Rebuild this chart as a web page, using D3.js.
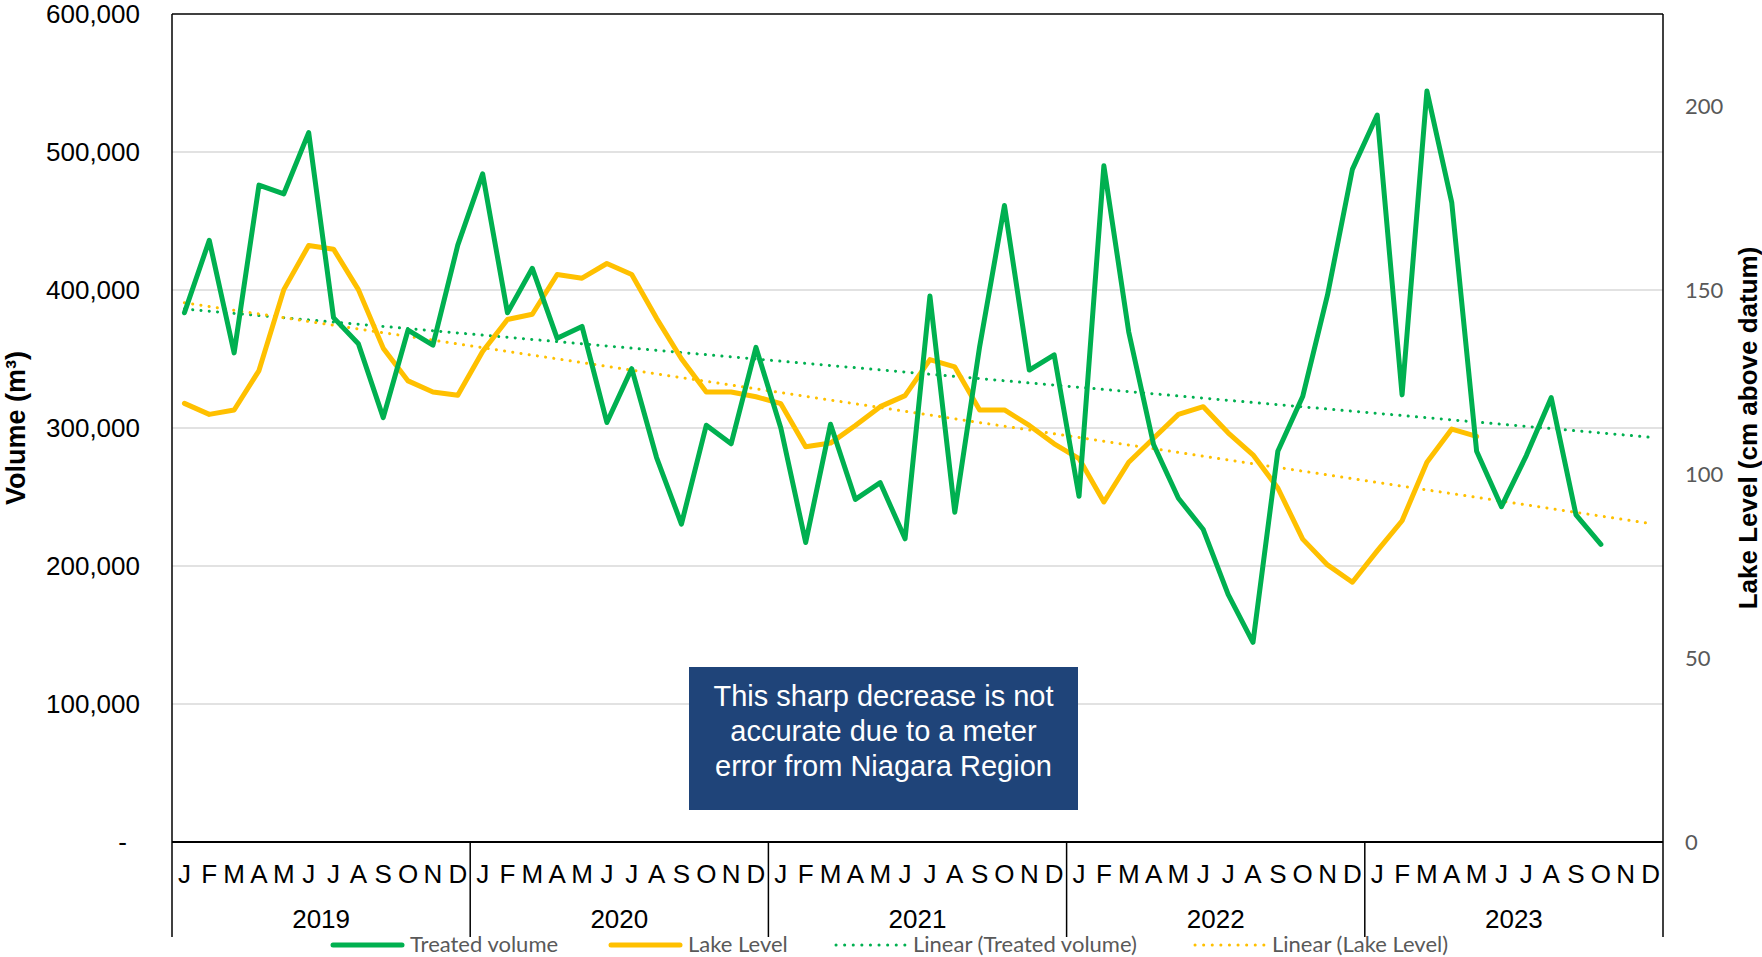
<!DOCTYPE html>
<html>
<head>
<meta charset="utf-8">
<script src="https://cdn.jsdelivr.net/npm/d3@7"></script>
<style>
  body { margin: 0; background: #fff; }
  svg { display: block; }
</style>
</head>
<body>
<div id="chart"></div>
<script>
// monthly data, Jan 2019 .. Dec 2023
var years = [2019, 2020, 2021, 2022, 2023];
var monthLetters = ["J","F","M","A","M","J","J","A","S","O","N","D"];

// treated volume (m3), ends Oct 2023
var treatedVolume = [
  383500, 436000, 354400, 476000, 469700, 514000, 380000, 361000, 307500, 371000, 360000, 432500,
  484200, 383500, 415700, 365000, 373600, 304000, 343000, 278600, 230400, 302000, 288500, 358400,
  300000, 217000, 302700, 248300, 260400, 219700, 395600, 239000, 358900, 461200, 342000, 353000,
  250500, 490000, 369600, 288000, 249100, 226400, 179500, 144700, 283100, 322800, 396400, 487400,
  526800, 324000, 544200, 463300, 283100, 243000, 280000, 322000, 237000, 215700
];

// lake level (cm above datum), ends May 2023
var lakeLevel = [
  119.2, 116.2, 117.4, 128.1, 150.1, 162.1, 161.1, 150.1, 134.2, 125.3, 122.3, 121.4,
  133.3, 142.0, 143.4, 154.2, 153.2, 157.2, 154.2, 142.3, 131.3, 122.3, 122.3, 121.0,
  119.1, 107.4, 108.4, 113.2, 118.3, 121.3, 131.1, 129.1, 117.4, 117.4, 113.2, 108.2,
  104.2, 92.4, 103.2, 109.7, 116.2, 118.3, 111.2, 105.2, 96.2, 82.3, 75.3, 70.6,
  79.1, 87.3, 103.2, 112.2, 110.2
];

var volumeTicks = [0, 100000, 200000, 300000, 400000, 500000, 600000];
var levelTicks = [0, 50, 100, 150, 200];
var note = ["This sharp decrease is not", "accurate due to a meter", "error from Niagara Region"];

var width = 1762, height = 957;
var plotLeft = 172, plotRight = 1663, plotTop = 14, plotBottom = 842;
var dividerBottom = 937;

var green = "#00B050", yellow = "#FFC000", grey = "#595959";

var months = d3.range(years.length * 12);

var x = d3.scaleBand().domain(months).range([plotLeft, plotRight]);
var xYear = d3.scaleBand().domain(years).range([plotLeft, plotRight]);
var yVol = d3.scaleLinear().domain([0, 600000]).range([plotBottom, plotTop]);
var yLake = d3.scaleLinear().domain([0, 225]).range([plotBottom, plotTop]);

function cx(i) { return x(i) + x.bandwidth() / 2; }

// linear trend on month index, like excel does
function linearFit(values) {
  var mx = d3.mean(values, function(d, i) { return i; });
  var my = d3.mean(values);
  var sxy = 0, sxx = 0;
  values.forEach(function(v, i) { sxy += (i - mx) * (v - my); sxx += (i - mx) * (i - mx); });
  var slope = sxy / sxx;
  return function(i) { return my + slope * (i - mx); };
}

var svg = d3.select("#chart").append("svg")
  .attr("width", width)
  .attr("height", height);

// gridlines
svg.append("g")
  .selectAll("line")
  .data(volumeTicks.filter(function(d) { return d > 0 && d < 600000; }))
  .enter().append("line")
  .attr("x1", plotLeft).attr("x2", plotRight)
  .attr("y1", function(d) { return yVol(d); })
  .attr("y2", function(d) { return yVol(d); })
  .attr("stroke", "#D9D9D9")
  .attr("stroke-width", 1.5);

// left axis labels
svg.append("g")
  .selectAll("text")
  .data(volumeTicks)
  .enter().append("text")
  .attr("x", function(d) { return d == 0 ? 127 : 140; })
  .attr("y", function(d) { return yVol(d); })
  .attr("dy", "0.35em")
  .attr("text-anchor", "end")
  .attr("font-family", "Liberation Sans, Arial, sans-serif")
  .attr("font-size", 26)
  .attr("fill", "#000")
  .text(function(d) { return d == 0 ? "-" : d3.format(",")(d); });

// right axis labels
svg.append("g")
  .selectAll("text")
  .data(levelTicks)
  .enter().append("text")
  .attr("x", 1685)
  .attr("y", function(d) { return yLake(d); })
  .attr("dy", "0.36em")
  .attr("font-family", "Lato, sans-serif")
  .attr("font-size", 22)
  .attr("fill", grey)
  .text(function(d) { return d; });

// axis titles
svg.append("text")
  .attr("transform", "translate(25," + ((plotTop + plotBottom) / 2) + ") rotate(-90)")
  .attr("text-anchor", "middle")
  .attr("font-family", "Liberation Sans, Arial, sans-serif")
  .attr("font-weight", "bold")
  .attr("font-size", 27)
  .text("Volume (m³)");

svg.append("text")
  .attr("transform", "translate(1757," + ((plotTop + plotBottom) / 2) + ") rotate(-90)")
  .attr("text-anchor", "middle")
  .attr("font-family", "Liberation Sans, Arial, sans-serif")
  .attr("font-weight", "bold")
  .attr("font-size", 26)
  .text("Lake Level (cm above datum)");

// frame
var frame = svg.append("g").attr("stroke", "#000").attr("fill", "none");
frame.append("line").attr("x1", plotLeft).attr("x2", plotRight).attr("y1", plotTop).attr("y2", plotTop).attr("stroke-width", 1.5);
frame.append("line").attr("x1", plotLeft).attr("x2", plotRight).attr("y1", plotBottom).attr("y2", plotBottom).attr("stroke-width", 2.2);
frame.selectAll(".divider")
  .data(d3.range(years.length + 1))
  .enter().append("line")
  .attr("class", "divider")
  .attr("x1", function(d) { return plotLeft + d * xYear.bandwidth(); })
  .attr("x2", function(d) { return plotLeft + d * xYear.bandwidth(); })
  .attr("y1", function(d) { return (d == 0 || d == years.length) ? plotTop : plotBottom; })
  .attr("y2", dividerBottom)
  .attr("stroke-width", 1.5);

// month letters
svg.append("g")
  .selectAll("text")
  .data(months)
  .enter().append("text")
  .attr("x", function(d) { return cx(d); })
  .attr("y", 883)
  .attr("text-anchor", "middle")
  .attr("font-family", "Liberation Sans, Arial, sans-serif")
  .attr("font-size", 26)
  .text(function(d) { return monthLetters[d % 12]; });

// year labels
svg.append("g")
  .selectAll("text")
  .data(years)
  .enter().append("text")
  .attr("x", function(d) { return xYear(d) + xYear.bandwidth() / 2; })
  .attr("y", 928)
  .attr("text-anchor", "middle")
  .attr("font-family", "Liberation Sans, Arial, sans-serif")
  .attr("font-size", 26)
  .text(function(d) { return d; });

// series
var volLine = d3.line()
  .x(function(d, i) { return cx(i); })
  .y(function(d) { return yVol(d); });
var lakeLine = d3.line()
  .x(function(d, i) { return cx(i); })
  .y(function(d) { return yLake(d); });

var volTrend = linearFit(treatedVolume);
var lakeTrend = linearFit(lakeLevel);
var ends = [0, months.length - 1];

svg.append("path")
  .attr("d", d3.line().x(function(i) { return cx(i); }).y(function(i) { return yVol(volTrend(i)); })(ends))
  .attr("fill", "none").attr("stroke", green).attr("stroke-width", 3)
  .attr("stroke-linecap", "round").attr("stroke-dasharray", "0.1 8.2");

svg.append("path")
  .attr("d", d3.line().x(function(i) { return cx(i); }).y(function(i) { return yLake(lakeTrend(i)); })(ends))
  .attr("fill", "none").attr("stroke", yellow).attr("stroke-width", 3)
  .attr("stroke-linecap", "round").attr("stroke-dasharray", "0.1 8.2");

svg.append("path")
  .attr("d", lakeLine(lakeLevel))
  .attr("fill", "none").attr("stroke", yellow).attr("stroke-width", 5)
  .attr("stroke-linejoin", "round").attr("stroke-linecap", "round");

svg.append("path")
  .attr("d", volLine(treatedVolume))
  .attr("fill", "none").attr("stroke", green).attr("stroke-width", 5)
  .attr("stroke-linejoin", "round").attr("stroke-linecap", "round");

// annotation box
var box = svg.append("g");
box.append("rect")
  .attr("x", 689).attr("y", 667)
  .attr("width", 389).attr("height", 143)
  .attr("fill", "#1F4479");
box.selectAll("text")
  .data(note)
  .enter().append("text")
  .attr("x", 883.5)
  .attr("y", function(d, i) { return 696 + i * 35; })
  .attr("dy", "0.35em")
  .attr("text-anchor", "middle")
  .attr("font-family", "Liberation Sans, Arial, sans-serif")
  .attr("font-size", 29)
  .attr("fill", "#fff")
  .text(function(d) { return d; });

// legend
var legendItems = [
  {name: "Treated volume", color: green, dotted: false, x: 333},
  {name: "Lake Level", color: yellow, dotted: false, x: 611},
  {name: "Linear (Treated volume)", color: green, dotted: true, x: 836},
  {name: "Linear (Lake Level)", color: yellow, dotted: true, x: 1195}
];
var legend = svg.append("g").selectAll("g")
  .data(legendItems)
  .enter().append("g")
  .attr("transform", function(d) { return "translate(" + d.x + ",945)"; });
legend.append("line")
  .attr("x1", 0).attr("x2", 69)
  .attr("stroke", function(d) { return d.color; })
  .attr("stroke-width", function(d) { return d.dotted ? 3 : 5; })
  .attr("stroke-linecap", "round")
  .attr("stroke-dasharray", function(d) { return d.dotted ? "0.1 8.5" : null; });
legend.append("text")
  .attr("x", 77)
  .attr("dy", "0.33em")
  .attr("font-family", "Lato, sans-serif")
  .attr("font-size", 22)
  .attr("fill", grey)
  .text(function(d) { return d.name; });
</script>
</body>
</html>
